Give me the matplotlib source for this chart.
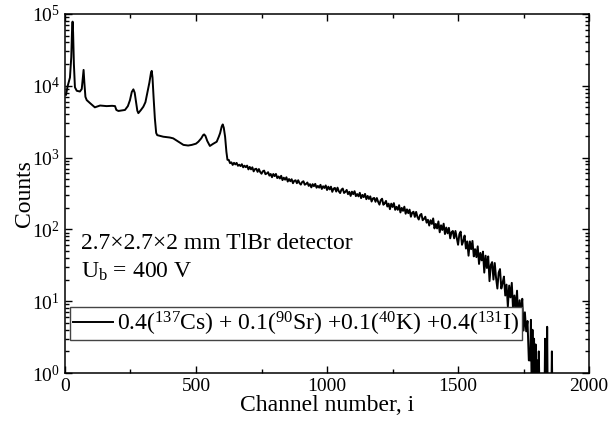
import numpy as np
import matplotlib.pyplot as plt
from matplotlib.ticker import MultipleLocator, LogLocator

plt.rcParams['font.family'] = ['Liberation Serif', 'DejaVu Serif']
plt.rcParams['mathtext.fontset'] = 'custom'
plt.rcParams['mathtext.rm'] = 'Liberation Serif'
plt.rcParams['mathtext.it'] = 'Liberation Serif:italic'
plt.rcParams['mathtext.bf'] = 'Liberation Serif:bold'

# peak region (channel, counts)
peak_ch = [4, 10, 19, 24, 27, 29, 31, 34, 38, 45, 57, 64, 68, 71, 74, 78, 83, 95,
           114, 134, 159, 180, 191, 196, 204, 229, 240, 248, 255, 261, 266, 271,
           276, 280, 290, 299, 307, 314, 322, 328, 331, 334, 338, 343, 348, 352,
           375, 400, 413, 433, 452, 470, 484, 500, 509, 520, 527, 531, 536, 543,
           553, 565, 579, 587, 592, 598, 602, 606, 611, 616]
peak_counts = [7500, 9800, 13000, 25000, 60000, 78000, 55000, 20000, 9500, 8500,
               8300, 9000, 13000, 16600, 11000, 7000, 6300, 5750, 5000, 5300, 5200,
               5250, 5200, 4600, 4450, 4600, 5200, 6300, 8200, 8900, 8000, 6000,
               4500, 4150, 4600, 5100, 5900, 7900, 11000, 15000, 16100, 13000, 7000,
               3500, 2200, 2050, 1950, 1900, 1850, 1660, 1500, 1470, 1500, 1560,
               1660, 1850, 2050, 2100, 2000, 1700, 1450, 1550, 1660, 1950, 2190,
               2700, 2890, 2600, 1950, 1200]

# continuum, every 5 channels from 620 to 1770 (noisy band)
cont_ch = np.arange(620, 1775, 5)
cont_counts = [930, 926, 834, 858, 789, 845, 802, 842, 767, 795,
               760, 807, 731, 770, 734, 772, 684, 740, 685, 731,
               642, 690, 698, 632, 691, 627, 595, 644, 658, 586,
               600, 625, 560, 590, 532, 590, 552, 591, 518, 545,
               511, 557, 485, 524, 492, 531, 463, 502, 468, 499,
               439, 474, 482, 439, 483, 440, 420, 456, 468, 418,
               429, 449, 403, 426, 384, 426, 399, 430, 380, 403,
               381, 417, 365, 398, 377, 409, 353, 393, 360, 393,
               333, 369, 378, 336, 381, 339, 320, 357, 370, 321,
               333, 354, 309, 333, 292, 335, 309, 340, 290, 310,
               288, 323, 272, 302, 281, 312, 263, 292, 265, 288,
               244, 269, 274, 242, 273, 242, 221, 255, 267, 220,
               231, 249, 208, 228, 191, 228, 205, 232, 187, 206,
               187, 217, 172, 199, 181, 207, 165, 190, 168, 188,
               150, 171, 176, 149, 175, 149, 137, 158, 164, 134,
               140, 150, 124, 136, 113, 134, 119, 142, 103, 119,
               103, 129, 91, 114, 98, 120, 86, 106, 88, 105,
               75, 91, 95, 75, 95, 76, 61, 86, 93, 61,
               69, 82, 54, 68, 43, 68, 53, 69, 42, 53,
               41, 58, 33, 47, 37, 49, 25, 43, 29, 42,
               19, 32, 35, 20, 34, 21, 15, 25, 28, 15,
               18, 22, 12, 17, 8.4, 16.5, 11.3, 18, 7.5, 12,
               7.7, 14, 5.1, 10.3, 6.8, 10.8, 3.9, 7, 3.8, 5.3,
               1.5]

# tail beyond the edge
tail_ch = [1775, 1778, 1781, 1784, 1787, 1790, 1793, 1796, 1799, 1802, 1805, 1808,
           1811, 1830, 1832, 1834, 1838, 1840, 1842, 1856, 1858, 1860]
tail_counts = [1.5, 5.5, 0.5, 4, 0.5, 3, 0.5, 2.5, 0.5, 1.5, 0.5, 2, 0.5,
               0.5, 3, 0.5, 0.5, 4.4, 0.5, 0.5, 2, 0.5]

channels = np.concatenate([peak_ch, cont_ch, tail_ch])
counts = np.concatenate([peak_counts, cont_counts, tail_counts])

legend_label = (r"0.4($^{137}$Cs) + 0.1($^{90}$Sr) +0.1($^{40}$K) +0.4($^{131}$I)")

fig = plt.figure(figsize=(6.13, 4.21), dpi=100)
ax = fig.add_axes([0.106, 0.114, 0.855, 0.853])

ax.plot(channels, counts, color='black', lw=1.4, label=legend_label)

ax.set_yscale('log')
ax.set_xlim(0, 2000)
ax.set_ylim(1, 1e5)
ax.xaxis.set_major_locator(MultipleLocator(500))
ax.xaxis.set_minor_locator(MultipleLocator(250))
ax.yaxis.set_major_locator(LogLocator(base=10, numticks=10))
ax.yaxis.set_minor_locator(LogLocator(base=10, subs=np.arange(2, 10), numticks=20))
ax.tick_params(which='both', direction='in', top=True, right=True, width=1.0)
ax.tick_params(which='major', length=5, labelsize=14)
ax.tick_params(which='minor', length=3)
for s in ax.spines.values():
    s.set_linewidth(1.1)

ax.set_xlabel('Channel number, i', fontsize=17, labelpad=0)
ax.set_ylabel('Counts', fontsize=17, labelpad=-2)

ax.text(0.03, 0.362, '2.7×2.7×2 mm TlBr detector', transform=ax.transAxes,
        fontsize=17, va='center', ha='left')
ax.text(0.03, 0.281, r'U$_{\rm b}$ = 400 V', transform=ax.transAxes,
        fontsize=17, va='center', ha='left')

leg = ax.legend(loc='lower left', bbox_to_anchor=(0.01, 0.092), borderaxespad=0,
                fontsize=17, fancybox=False, framealpha=1, edgecolor='#444444',
                handlelength=1.7, handletextpad=0.2, borderpad=0.1)
leg.get_frame().set_linewidth(1.0)

fig.savefig('out.png', dpi=100)
